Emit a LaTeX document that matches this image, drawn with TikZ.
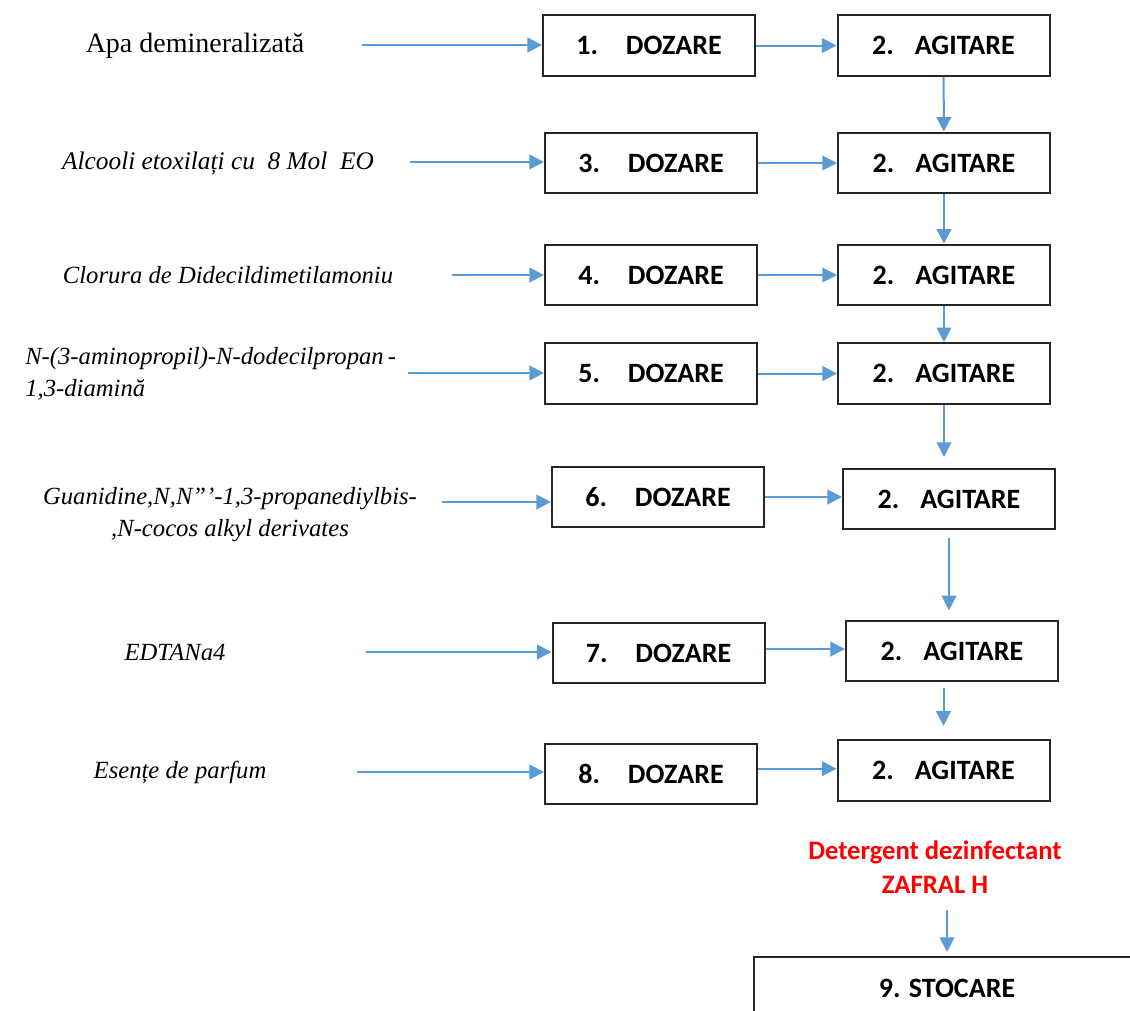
\documentclass[tikz,border=0pt]{standalone}
\usepackage{fontspec}
\setmainfont{Liberation Serif}
\newfontfamily\boxfont{Carlito}
\usetikzlibrary{arrows.meta}
\definecolor{flowblue}{HTML}{5B9BD5}
\definecolor{boxline}{HTML}{262626}

\begin{document}
\begin{tikzpicture}[x=0.75pt, y=-0.75pt, >={Triangle[length=11pt,width=11pt]},
    stepbox/.style={draw=boxline, line width=1.5pt, minimum width=159pt, minimum height=45.5pt, inner sep=0pt, font=\boxfont\bfseries\fontsize{21}{24}\selectfont},
    flow/.style={->, draw=flowblue, line width=1.5pt},
    input/.style={font=\itshape\fontsize{18.5}{24}\selectfont, align=center}]
    \useasboundingbox (0,0) rectangle (1130,1010);

    % Inputs
    \node[font=\fontsize{21}{24}\selectfont] (apa) at (195,46) {Apa demineralizată};
    \node[input, font=\itshape\fontsize{19}{24}\selectfont] (alcooli) at (218,163) {Alcooli etoxilați cu\ \ 8 Mol\ \ EO};
    \node[input] (clorura) at (228,275) {Clorura de Didecildimetilamoniu};
    \node[input, align=left, anchor=west, inner sep=0pt] (amina) at (25,374) {N-(3-aminopropil)-N-dodecilpropan\,-\\1,3-diamină};
    \node[input] (guanidina) at (230,515) {Guanidine,N,N”’-1,3-propanediylbis-\\,N-cocos alkyl derivates};
    \node[input] (edta) at (175,652) {EDTANa4};
    \node[input] (parfum) at (180,772) {Esențe de parfum};

    \coordinate (in1) at (362,45);
    \coordinate (in3) at (410,162);
    \coordinate (in4) at (452,275);
    \coordinate (in5) at (408,373);
    \coordinate (in6) at (442,502);
    \coordinate (in7) at (366,652);
    \coordinate (in8) at (357,772);

    % Nodes
    \node[stepbox] (d1) at (649,45.5) {1.\hspace{1em}DOZARE};
    \node[stepbox] (a1) at (943.5,45.5) {2.\hspace{0.75em}AGITARE};
    \node[stepbox] (d3) at (651,163) {3.\hspace{1em}DOZARE};
    \node[stepbox] (a2) at (944,163) {2.\hspace{0.75em}AGITARE};
    \node[stepbox] (d4) at (651,275) {4.\hspace{1em}DOZARE};
    \node[stepbox] (a3) at (944,275) {2.\hspace{0.75em}AGITARE};
    \node[stepbox] (d5) at (651,373.5) {5.\hspace{1em}DOZARE};
    \node[stepbox] (a4) at (944,373.5) {2.\hspace{0.75em}AGITARE};
    \node[stepbox] (d6) at (658,497) {6.\hspace{1em}DOZARE};
    \node[stepbox] (a5) at (949,499) {2.\hspace{0.75em}AGITARE};
    \node[stepbox] (d7) at (658.5,653) {7.\hspace{1em}DOZARE};
    \node[stepbox] (a6) at (952,651) {2.\hspace{0.75em}AGITARE};
    \node[stepbox] (d8) at (651,774) {8.\hspace{1em}DOZARE};
    \node[stepbox] (a7) at (943.5,770.5) {2.\hspace{0.75em}AGITARE};

    \node[font=\boxfont\bfseries\fontsize{20}{26}\selectfont, text=red, align=center, inner sep=0pt] (produs) at (935,867) {Detergent dezinfectant\\ZAFRAL H};
    \node[stepbox, minimum width=289.5pt, minimum height=46.5pt] (stocare) at (947,988) {9. STOCARE};

    % Arrows
    \draw[flow] (in1) -- (in1 -| d1.west);
    \draw[flow] (in3) -- (in3 -| d3.west);
    \draw[flow] (in4) -- (in4 -| d4.west);
    \draw[flow] (in5) -- (in5 -| d5.west);
    \draw[flow] (in6) -- (in6 -| d6.west);
    \draw[flow] (in7) -- (in7 -| d7.west);
    \draw[flow] (in8) -- (in8 -| d8.west);

    \draw[flow] (d1.east) -- (d1.east -| a1.west);
    \draw[flow] (d3.east) -- (d3.east -| a2.west);
    \draw[flow] (d4.east) -- (d4.east -| a3.west);
    \draw[flow] (d5.east) -- (d5.east -| a4.west);
    \draw[flow] (d6.east) -- (d6.east -| a5.west);
    \draw[flow] ([yshift=3pt]d7.east) -- ([yshift=3pt]d7.east -| a6.west);
    \draw[flow] ([yshift=4pt]d8.east) -- ([yshift=4pt]d8.east -| a7.west);

    \draw[flow] (a1) -- (a2);
    \draw[flow] (a2) -- (a3);
    \draw[flow] (a3) -- (a4);
    \draw[flow, shorten >=8pt] (a4.south) -- (a4.south |- a5.north);
    \draw[flow, shorten <=6pt, shorten >=7pt] (a5.south) -- (a5.south |- a6.north);
    \draw[flow, shorten <=4pt, shorten >=10pt] (a6.south -| a7.north) -- (a7.north);
    \draw[flow, shorten <=12pt, shorten >=3pt] (produs.south -| stocare.north) -- (stocare.north);
  \end{tikzpicture}
\end{document}
